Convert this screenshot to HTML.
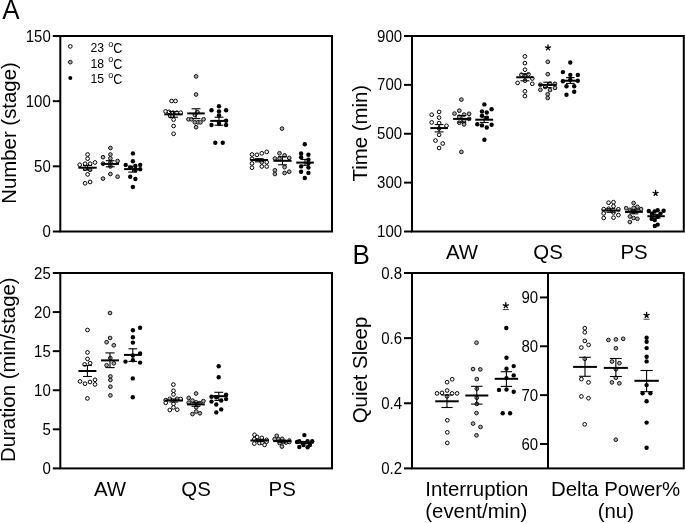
<!DOCTYPE html>
<html><head><meta charset="utf-8"><style>
html,body{margin:0;padding:0;background:#fff;}
svg{display:block;will-change:transform;}
text{font-family:"Liberation Sans", sans-serif;fill:#000;}
</style></head><body>
<svg width="685" height="523" viewBox="0 0 685 523">
<circle cx="87.6" cy="154.5" r="1.85" fill="#fff" stroke="#000" stroke-width="1.0"/>
<circle cx="87.6" cy="158.7" r="1.85" fill="#fff" stroke="#000" stroke-width="1.0"/>
<circle cx="79.7" cy="164.8" r="1.85" fill="#fff" stroke="#000" stroke-width="1.0"/>
<circle cx="85.1" cy="163.7" r="1.85" fill="#fff" stroke="#000" stroke-width="1.0"/>
<circle cx="90.1" cy="163.7" r="1.85" fill="#fff" stroke="#000" stroke-width="1.0"/>
<circle cx="95.0" cy="162.5" r="1.85" fill="#fff" stroke="#000" stroke-width="1.0"/>
<circle cx="85.1" cy="168.7" r="1.85" fill="#fff" stroke="#000" stroke-width="1.0"/>
<circle cx="90.1" cy="169.8" r="1.85" fill="#fff" stroke="#000" stroke-width="1.0"/>
<circle cx="87.6" cy="174.4" r="1.85" fill="#fff" stroke="#000" stroke-width="1.0"/>
<circle cx="85.1" cy="183.3" r="1.85" fill="#fff" stroke="#000" stroke-width="1.0"/>
<circle cx="90.1" cy="182" r="1.85" fill="#fff" stroke="#000" stroke-width="1.0"/>
<circle cx="110.4" cy="148.0" r="1.85" fill="#aaaaaa" stroke="#111" stroke-width="1.0"/>
<circle cx="103.0" cy="157.2" r="1.85" fill="#aaaaaa" stroke="#111" stroke-width="1.0"/>
<circle cx="110.4" cy="154.5" r="1.85" fill="#aaaaaa" stroke="#111" stroke-width="1.0"/>
<circle cx="110.4" cy="158.4" r="1.85" fill="#aaaaaa" stroke="#111" stroke-width="1.0"/>
<circle cx="117.6" cy="161.0" r="1.85" fill="#aaaaaa" stroke="#111" stroke-width="1.0"/>
<circle cx="103.0" cy="163.7" r="1.85" fill="#aaaaaa" stroke="#111" stroke-width="1.0"/>
<circle cx="110.4" cy="162.5" r="1.85" fill="#aaaaaa" stroke="#111" stroke-width="1.0"/>
<circle cx="110.4" cy="166.4" r="1.85" fill="#aaaaaa" stroke="#111" stroke-width="1.0"/>
<circle cx="110.4" cy="174" r="1.85" fill="#aaaaaa" stroke="#111" stroke-width="1.0"/>
<circle cx="117.6" cy="176.7" r="1.85" fill="#aaaaaa" stroke="#111" stroke-width="1.0"/>
<circle cx="103" cy="178.6" r="1.85" fill="#aaaaaa" stroke="#111" stroke-width="1.0"/>
<circle cx="132.9" cy="153.4" r="2.2" fill="#000"/>
<circle cx="132.9" cy="161.3" r="2.2" fill="#000"/>
<circle cx="125.7" cy="164.9" r="2.2" fill="#000"/>
<circle cx="135.4" cy="166" r="2.2" fill="#000"/>
<circle cx="140.2" cy="164.9" r="2.2" fill="#000"/>
<circle cx="130.2" cy="167.4" r="2.2" fill="#000"/>
<circle cx="135.4" cy="170.2" r="2.2" fill="#000"/>
<circle cx="140.2" cy="169.2" r="2.2" fill="#000"/>
<circle cx="130.2" cy="176.7" r="2.2" fill="#000"/>
<circle cx="135.4" cy="179" r="2.2" fill="#000"/>
<circle cx="132.9" cy="187" r="2.2" fill="#000"/>
<circle cx="171.6" cy="101.0" r="1.85" fill="#fff" stroke="#000" stroke-width="1.0"/>
<circle cx="175.5" cy="101.0" r="1.85" fill="#fff" stroke="#000" stroke-width="1.0"/>
<circle cx="165.6" cy="111.4" r="1.85" fill="#fff" stroke="#000" stroke-width="1.0"/>
<circle cx="169" cy="111.8" r="1.85" fill="#fff" stroke="#000" stroke-width="1.0"/>
<circle cx="172.9" cy="112.7" r="1.85" fill="#fff" stroke="#000" stroke-width="1.0"/>
<circle cx="176.8" cy="112.7" r="1.85" fill="#fff" stroke="#000" stroke-width="1.0"/>
<circle cx="180.7" cy="112.7" r="1.85" fill="#fff" stroke="#000" stroke-width="1.0"/>
<circle cx="170.3" cy="116.1" r="1.85" fill="#fff" stroke="#000" stroke-width="1.0"/>
<circle cx="172.5" cy="116.1" r="1.85" fill="#fff" stroke="#000" stroke-width="1.0"/>
<circle cx="173.6" cy="119.6" r="1.85" fill="#fff" stroke="#000" stroke-width="1.0"/>
<circle cx="173.6" cy="126" r="1.85" fill="#fff" stroke="#000" stroke-width="1.0"/>
<circle cx="173.6" cy="133.8" r="1.85" fill="#fff" stroke="#000" stroke-width="1.0"/>
<circle cx="196.1" cy="76.4" r="1.85" fill="#aaaaaa" stroke="#111" stroke-width="1.0"/>
<circle cx="196.1" cy="94.5" r="1.85" fill="#aaaaaa" stroke="#111" stroke-width="1.0"/>
<circle cx="197.5" cy="112.2" r="1.85" fill="#aaaaaa" stroke="#111" stroke-width="1.0"/>
<circle cx="194.8" cy="115" r="1.85" fill="#aaaaaa" stroke="#111" stroke-width="1.0"/>
<circle cx="188.5" cy="119.3" r="1.85" fill="#aaaaaa" stroke="#111" stroke-width="1.0"/>
<circle cx="191.5" cy="119.3" r="1.85" fill="#aaaaaa" stroke="#111" stroke-width="1.0"/>
<circle cx="203.6" cy="119.3" r="1.85" fill="#aaaaaa" stroke="#111" stroke-width="1.0"/>
<circle cx="194.8" cy="122.3" r="1.85" fill="#aaaaaa" stroke="#111" stroke-width="1.0"/>
<circle cx="198" cy="122.3" r="1.85" fill="#aaaaaa" stroke="#111" stroke-width="1.0"/>
<circle cx="200.5" cy="122.3" r="1.85" fill="#aaaaaa" stroke="#111" stroke-width="1.0"/>
<circle cx="196.1" cy="127.2" r="1.85" fill="#aaaaaa" stroke="#111" stroke-width="1.0"/>
<circle cx="219" cy="106.2" r="2.2" fill="#000"/>
<circle cx="211.5" cy="110.3" r="2.2" fill="#000"/>
<circle cx="219" cy="111.4" r="2.2" fill="#000"/>
<circle cx="226.1" cy="110.3" r="2.2" fill="#000"/>
<circle cx="219" cy="115.5" r="2.2" fill="#000"/>
<circle cx="226.1" cy="120.7" r="2.2" fill="#000"/>
<circle cx="219" cy="122.8" r="2.2" fill="#000"/>
<circle cx="211.5" cy="125" r="2.2" fill="#000"/>
<circle cx="219" cy="124.1" r="2.2" fill="#000"/>
<circle cx="226.1" cy="125" r="2.2" fill="#000"/>
<circle cx="215.3" cy="142.7" r="2.2" fill="#000"/>
<circle cx="222.7" cy="142.7" r="2.2" fill="#000"/>
<circle cx="252" cy="154.5" r="1.85" fill="#fff" stroke="#000" stroke-width="1.0"/>
<circle cx="256.9" cy="154.8" r="1.85" fill="#fff" stroke="#000" stroke-width="1.0"/>
<circle cx="261.8" cy="153.3" r="1.85" fill="#fff" stroke="#000" stroke-width="1.0"/>
<circle cx="266.7" cy="151.9" r="1.85" fill="#fff" stroke="#000" stroke-width="1.0"/>
<circle cx="252" cy="158.8" r="1.85" fill="#fff" stroke="#000" stroke-width="1.0"/>
<circle cx="252" cy="163.4" r="1.85" fill="#fff" stroke="#000" stroke-width="1.0"/>
<circle cx="252" cy="167.7" r="1.85" fill="#fff" stroke="#000" stroke-width="1.0"/>
<circle cx="261.8" cy="162.2" r="1.85" fill="#fff" stroke="#000" stroke-width="1.0"/>
<circle cx="261.8" cy="166.5" r="1.85" fill="#fff" stroke="#000" stroke-width="1.0"/>
<circle cx="266.7" cy="162.2" r="1.85" fill="#fff" stroke="#000" stroke-width="1.0"/>
<circle cx="266.7" cy="166.5" r="1.85" fill="#fff" stroke="#000" stroke-width="1.0"/>
<circle cx="282" cy="128.6" r="1.85" fill="#aaaaaa" stroke="#111" stroke-width="1.0"/>
<circle cx="279.5" cy="153.3" r="1.85" fill="#aaaaaa" stroke="#111" stroke-width="1.0"/>
<circle cx="284.6" cy="155.4" r="1.85" fill="#aaaaaa" stroke="#111" stroke-width="1.0"/>
<circle cx="274.9" cy="158.5" r="1.85" fill="#aaaaaa" stroke="#111" stroke-width="1.0"/>
<circle cx="279.5" cy="158.5" r="1.85" fill="#aaaaaa" stroke="#111" stroke-width="1.0"/>
<circle cx="289.2" cy="157.9" r="1.85" fill="#aaaaaa" stroke="#111" stroke-width="1.0"/>
<circle cx="284.6" cy="167.1" r="1.85" fill="#aaaaaa" stroke="#111" stroke-width="1.0"/>
<circle cx="274.9" cy="170.3" r="1.85" fill="#aaaaaa" stroke="#111" stroke-width="1.0"/>
<circle cx="274.9" cy="174" r="1.85" fill="#aaaaaa" stroke="#111" stroke-width="1.0"/>
<circle cx="284.6" cy="173" r="1.85" fill="#aaaaaa" stroke="#111" stroke-width="1.0"/>
<circle cx="289.2" cy="171.7" r="1.85" fill="#aaaaaa" stroke="#111" stroke-width="1.0"/>
<circle cx="304.8" cy="144.3" r="2.2" fill="#000"/>
<circle cx="301.1" cy="153.4" r="2.2" fill="#000"/>
<circle cx="308.4" cy="154.7" r="2.2" fill="#000"/>
<circle cx="301.1" cy="157.3" r="2.2" fill="#000"/>
<circle cx="308.4" cy="159.7" r="2.2" fill="#000"/>
<circle cx="308.4" cy="163.2" r="2.2" fill="#000"/>
<circle cx="301.1" cy="166.4" r="2.2" fill="#000"/>
<circle cx="308.4" cy="167.6" r="2.2" fill="#000"/>
<circle cx="301.1" cy="171.8" r="2.2" fill="#000"/>
<circle cx="308.4" cy="172.9" r="2.2" fill="#000"/>
<circle cx="304.8" cy="178" r="2.2" fill="#000"/>
<circle cx="439.1" cy="111.9" r="1.85" fill="#fff" stroke="#000" stroke-width="1.0"/>
<circle cx="431.7" cy="114.7" r="1.85" fill="#fff" stroke="#000" stroke-width="1.0"/>
<circle cx="439.1" cy="117.6" r="1.85" fill="#fff" stroke="#000" stroke-width="1.0"/>
<circle cx="431.7" cy="122.4" r="1.85" fill="#fff" stroke="#000" stroke-width="1.0"/>
<circle cx="439.1" cy="123.1" r="1.85" fill="#fff" stroke="#000" stroke-width="1.0"/>
<circle cx="446.5" cy="125.8" r="1.85" fill="#fff" stroke="#000" stroke-width="1.0"/>
<circle cx="439.1" cy="128.4" r="1.85" fill="#fff" stroke="#000" stroke-width="1.0"/>
<circle cx="439.1" cy="134.8" r="1.85" fill="#fff" stroke="#000" stroke-width="1.0"/>
<circle cx="435.5" cy="140.6" r="1.85" fill="#fff" stroke="#000" stroke-width="1.0"/>
<circle cx="442.7" cy="143.5" r="1.85" fill="#fff" stroke="#000" stroke-width="1.0"/>
<circle cx="439.1" cy="148" r="1.85" fill="#fff" stroke="#000" stroke-width="1.0"/>
<circle cx="461.4" cy="99.6" r="1.85" fill="#aaaaaa" stroke="#111" stroke-width="1.0"/>
<circle cx="459.3" cy="110.7" r="1.85" fill="#aaaaaa" stroke="#111" stroke-width="1.0"/>
<circle cx="454.5" cy="113.6" r="1.85" fill="#aaaaaa" stroke="#111" stroke-width="1.0"/>
<circle cx="464.1" cy="114.6" r="1.85" fill="#aaaaaa" stroke="#111" stroke-width="1.0"/>
<circle cx="469.1" cy="113.8" r="1.85" fill="#aaaaaa" stroke="#111" stroke-width="1.0"/>
<circle cx="459.3" cy="116.7" r="1.85" fill="#aaaaaa" stroke="#111" stroke-width="1.0"/>
<circle cx="469.1" cy="118.9" r="1.85" fill="#aaaaaa" stroke="#111" stroke-width="1.0"/>
<circle cx="464.1" cy="120.5" r="1.85" fill="#aaaaaa" stroke="#111" stroke-width="1.0"/>
<circle cx="459.3" cy="122.7" r="1.85" fill="#aaaaaa" stroke="#111" stroke-width="1.0"/>
<circle cx="464.1" cy="124.4" r="1.85" fill="#aaaaaa" stroke="#111" stroke-width="1.0"/>
<circle cx="461.4" cy="151.9" r="1.85" fill="#aaaaaa" stroke="#111" stroke-width="1.0"/>
<circle cx="484.4" cy="104.4" r="2.2" fill="#000"/>
<circle cx="491.6" cy="109.3" r="2.2" fill="#000"/>
<circle cx="482" cy="111.4" r="2.2" fill="#000"/>
<circle cx="486.8" cy="112.5" r="2.2" fill="#000"/>
<circle cx="482" cy="115.8" r="2.2" fill="#000"/>
<circle cx="486.8" cy="117.8" r="2.2" fill="#000"/>
<circle cx="477.3" cy="124.2" r="2.2" fill="#000"/>
<circle cx="482" cy="125.4" r="2.2" fill="#000"/>
<circle cx="491.6" cy="124.8" r="2.2" fill="#000"/>
<circle cx="486.8" cy="127.5" r="2.2" fill="#000"/>
<circle cx="484.4" cy="139.7" r="2.2" fill="#000"/>
<circle cx="524.9" cy="56.4" r="1.85" fill="#fff" stroke="#000" stroke-width="1.0"/>
<circle cx="524.9" cy="63.1" r="1.85" fill="#fff" stroke="#000" stroke-width="1.0"/>
<circle cx="525" cy="69.7" r="1.85" fill="#fff" stroke="#000" stroke-width="1.0"/>
<circle cx="521.4" cy="74.7" r="1.85" fill="#fff" stroke="#000" stroke-width="1.0"/>
<circle cx="525" cy="75.8" r="1.85" fill="#fff" stroke="#000" stroke-width="1.0"/>
<circle cx="528.5" cy="74.3" r="1.85" fill="#fff" stroke="#000" stroke-width="1.0"/>
<circle cx="532.3" cy="78.5" r="1.85" fill="#fff" stroke="#000" stroke-width="1.0"/>
<circle cx="525" cy="80.6" r="1.85" fill="#fff" stroke="#000" stroke-width="1.0"/>
<circle cx="517.6" cy="82.9" r="1.85" fill="#fff" stroke="#000" stroke-width="1.0"/>
<circle cx="532.3" cy="83.8" r="1.85" fill="#fff" stroke="#000" stroke-width="1.0"/>
<circle cx="524.9" cy="91.3" r="1.85" fill="#fff" stroke="#000" stroke-width="1.0"/>
<circle cx="524.9" cy="96.1" r="1.85" fill="#fff" stroke="#000" stroke-width="1.0"/>
<circle cx="547.8" cy="61.8" r="1.85" fill="#aaaaaa" stroke="#111" stroke-width="1.0"/>
<circle cx="547.8" cy="74.2" r="1.85" fill="#aaaaaa" stroke="#111" stroke-width="1.0"/>
<circle cx="540.4" cy="84.7" r="1.85" fill="#aaaaaa" stroke="#111" stroke-width="1.0"/>
<circle cx="545.2" cy="87" r="1.85" fill="#aaaaaa" stroke="#111" stroke-width="1.0"/>
<circle cx="550" cy="83.8" r="1.85" fill="#aaaaaa" stroke="#111" stroke-width="1.0"/>
<circle cx="555" cy="83.8" r="1.85" fill="#aaaaaa" stroke="#111" stroke-width="1.0"/>
<circle cx="540.4" cy="89.8" r="1.85" fill="#aaaaaa" stroke="#111" stroke-width="1.0"/>
<circle cx="550" cy="90" r="1.85" fill="#aaaaaa" stroke="#111" stroke-width="1.0"/>
<circle cx="555" cy="87.9" r="1.85" fill="#aaaaaa" stroke="#111" stroke-width="1.0"/>
<circle cx="547.7" cy="94.3" r="1.85" fill="#aaaaaa" stroke="#111" stroke-width="1.0"/>
<circle cx="547.7" cy="98" r="1.85" fill="#aaaaaa" stroke="#111" stroke-width="1.0"/>
<circle cx="570.3" cy="62.5" r="2.2" fill="#000"/>
<circle cx="562.9" cy="72.1" r="2.2" fill="#000"/>
<circle cx="570.3" cy="74.9" r="2.2" fill="#000"/>
<circle cx="577.8" cy="74.9" r="2.2" fill="#000"/>
<circle cx="570.3" cy="79.7" r="2.2" fill="#000"/>
<circle cx="562.9" cy="81.2" r="2.2" fill="#000"/>
<circle cx="577.8" cy="80.7" r="2.2" fill="#000"/>
<circle cx="566.5" cy="86.2" r="2.2" fill="#000"/>
<circle cx="574.2" cy="86.2" r="2.2" fill="#000"/>
<circle cx="574.2" cy="91.7" r="2.2" fill="#000"/>
<circle cx="566.5" cy="94.8" r="2.2" fill="#000"/>
<circle cx="608.6" cy="202.7" r="1.85" fill="#fff" stroke="#000" stroke-width="1.0"/>
<circle cx="613.5" cy="202.2" r="1.85" fill="#fff" stroke="#000" stroke-width="1.0"/>
<circle cx="613.5" cy="206.2" r="1.85" fill="#fff" stroke="#000" stroke-width="1.0"/>
<circle cx="603.7" cy="209.1" r="1.85" fill="#fff" stroke="#000" stroke-width="1.0"/>
<circle cx="608.6" cy="208.8" r="1.85" fill="#fff" stroke="#000" stroke-width="1.0"/>
<circle cx="618.4" cy="209.3" r="1.85" fill="#fff" stroke="#000" stroke-width="1.0"/>
<circle cx="603.7" cy="213.4" r="1.85" fill="#fff" stroke="#000" stroke-width="1.0"/>
<circle cx="613.5" cy="212.5" r="1.85" fill="#fff" stroke="#000" stroke-width="1.0"/>
<circle cx="618.4" cy="215.1" r="1.85" fill="#fff" stroke="#000" stroke-width="1.0"/>
<circle cx="603.7" cy="218" r="1.85" fill="#fff" stroke="#000" stroke-width="1.0"/>
<circle cx="613.5" cy="217.7" r="1.85" fill="#fff" stroke="#000" stroke-width="1.0"/>
<circle cx="633.6" cy="203" r="1.85" fill="#aaaaaa" stroke="#111" stroke-width="1.0"/>
<circle cx="626.2" cy="208.2" r="1.85" fill="#aaaaaa" stroke="#111" stroke-width="1.0"/>
<circle cx="633.6" cy="207.9" r="1.85" fill="#aaaaaa" stroke="#111" stroke-width="1.0"/>
<circle cx="637.4" cy="206.8" r="1.85" fill="#aaaaaa" stroke="#111" stroke-width="1.0"/>
<circle cx="641.1" cy="209.1" r="1.85" fill="#aaaaaa" stroke="#111" stroke-width="1.0"/>
<circle cx="629.9" cy="209.9" r="1.85" fill="#aaaaaa" stroke="#111" stroke-width="1.0"/>
<circle cx="637.4" cy="210.2" r="1.85" fill="#aaaaaa" stroke="#111" stroke-width="1.0"/>
<circle cx="633.6" cy="211.6" r="1.85" fill="#aaaaaa" stroke="#111" stroke-width="1.0"/>
<circle cx="629.9" cy="216.5" r="1.85" fill="#aaaaaa" stroke="#111" stroke-width="1.0"/>
<circle cx="633.6" cy="218" r="1.85" fill="#aaaaaa" stroke="#111" stroke-width="1.0"/>
<circle cx="637.4" cy="218.8" r="1.85" fill="#aaaaaa" stroke="#111" stroke-width="1.0"/>
<circle cx="629.9" cy="222" r="1.85" fill="#aaaaaa" stroke="#111" stroke-width="1.0"/>
<circle cx="648.8" cy="211" r="2.2" fill="#000"/>
<circle cx="654.6" cy="211.5" r="2.2" fill="#000"/>
<circle cx="657.7" cy="210.3" r="2.2" fill="#000"/>
<circle cx="663.6" cy="210.7" r="2.2" fill="#000"/>
<circle cx="651.9" cy="213.8" r="2.2" fill="#000"/>
<circle cx="660.5" cy="213.6" r="2.2" fill="#000"/>
<circle cx="651.9" cy="217" r="2.2" fill="#000"/>
<circle cx="657.7" cy="216.7" r="2.2" fill="#000"/>
<circle cx="651.7" cy="218.9" r="2.2" fill="#000"/>
<circle cx="654.8" cy="220.1" r="2.2" fill="#000"/>
<circle cx="654.8" cy="226" r="2.2" fill="#000"/>
<circle cx="657.7" cy="224.6" r="2.2" fill="#000"/>
<circle cx="87.5" cy="330" r="1.85" fill="#fff" stroke="#000" stroke-width="1.0"/>
<circle cx="87.5" cy="352.4" r="1.85" fill="#fff" stroke="#000" stroke-width="1.0"/>
<circle cx="87.5" cy="358.9" r="1.85" fill="#fff" stroke="#000" stroke-width="1.0"/>
<circle cx="84.6" cy="364.4" r="1.85" fill="#fff" stroke="#000" stroke-width="1.0"/>
<circle cx="90.1" cy="363.2" r="1.85" fill="#fff" stroke="#000" stroke-width="1.0"/>
<circle cx="80" cy="381.4" r="1.85" fill="#fff" stroke="#000" stroke-width="1.0"/>
<circle cx="85" cy="383.7" r="1.85" fill="#fff" stroke="#000" stroke-width="1.0"/>
<circle cx="90" cy="382" r="1.85" fill="#fff" stroke="#000" stroke-width="1.0"/>
<circle cx="95" cy="379.8" r="1.85" fill="#fff" stroke="#000" stroke-width="1.0"/>
<circle cx="95" cy="384.4" r="1.85" fill="#fff" stroke="#000" stroke-width="1.0"/>
<circle cx="87.4" cy="398.4" r="1.85" fill="#fff" stroke="#000" stroke-width="1.0"/>
<circle cx="110" cy="313" r="1.85" fill="#aaaaaa" stroke="#111" stroke-width="1.0"/>
<circle cx="110.1" cy="338" r="1.85" fill="#aaaaaa" stroke="#111" stroke-width="1.0"/>
<circle cx="106.6" cy="342.2" r="1.85" fill="#aaaaaa" stroke="#111" stroke-width="1.0"/>
<circle cx="113.8" cy="345.3" r="1.85" fill="#aaaaaa" stroke="#111" stroke-width="1.0"/>
<circle cx="110.3" cy="358.1" r="1.85" fill="#aaaaaa" stroke="#111" stroke-width="1.0"/>
<circle cx="113.8" cy="363.3" r="1.85" fill="#aaaaaa" stroke="#111" stroke-width="1.0"/>
<circle cx="106.6" cy="365.3" r="1.85" fill="#aaaaaa" stroke="#111" stroke-width="1.0"/>
<circle cx="110.4" cy="376.4" r="1.85" fill="#aaaaaa" stroke="#111" stroke-width="1.0"/>
<circle cx="110.4" cy="380" r="1.85" fill="#aaaaaa" stroke="#111" stroke-width="1.0"/>
<circle cx="110.4" cy="386.7" r="1.85" fill="#aaaaaa" stroke="#111" stroke-width="1.0"/>
<circle cx="110.4" cy="395.4" r="1.85" fill="#aaaaaa" stroke="#111" stroke-width="1.0"/>
<circle cx="140.1" cy="327.8" r="2.2" fill="#000"/>
<circle cx="132.9" cy="330.2" r="2.2" fill="#000"/>
<circle cx="132.9" cy="337.3" r="2.2" fill="#000"/>
<circle cx="132.9" cy="342.6" r="2.2" fill="#000"/>
<circle cx="140.1" cy="353.4" r="2.2" fill="#000"/>
<circle cx="132.9" cy="355.5" r="2.2" fill="#000"/>
<circle cx="125.5" cy="361.6" r="2.2" fill="#000"/>
<circle cx="132.9" cy="360.3" r="2.2" fill="#000"/>
<circle cx="140.1" cy="362.6" r="2.2" fill="#000"/>
<circle cx="132.8" cy="378.4" r="2.2" fill="#000"/>
<circle cx="132.8" cy="397.2" r="2.2" fill="#000"/>
<circle cx="173.4" cy="384.6" r="1.85" fill="#fff" stroke="#000" stroke-width="1.0"/>
<circle cx="173.5" cy="390.8" r="1.85" fill="#fff" stroke="#000" stroke-width="1.0"/>
<circle cx="173.5" cy="394.4" r="1.85" fill="#fff" stroke="#000" stroke-width="1.0"/>
<circle cx="169.8" cy="398.8" r="1.85" fill="#fff" stroke="#000" stroke-width="1.0"/>
<circle cx="177.2" cy="398.8" r="1.85" fill="#fff" stroke="#000" stroke-width="1.0"/>
<circle cx="180.7" cy="399" r="1.85" fill="#fff" stroke="#000" stroke-width="1.0"/>
<circle cx="165.7" cy="400.2" r="1.85" fill="#fff" stroke="#000" stroke-width="1.0"/>
<circle cx="165.7" cy="402.8" r="1.85" fill="#fff" stroke="#000" stroke-width="1.0"/>
<circle cx="173.5" cy="403.9" r="1.85" fill="#fff" stroke="#000" stroke-width="1.0"/>
<circle cx="173.5" cy="407.4" r="1.85" fill="#fff" stroke="#000" stroke-width="1.0"/>
<circle cx="169.8" cy="410" r="1.85" fill="#fff" stroke="#000" stroke-width="1.0"/>
<circle cx="177.2" cy="409.7" r="1.85" fill="#fff" stroke="#000" stroke-width="1.0"/>
<circle cx="196.1" cy="393.5" r="1.85" fill="#aaaaaa" stroke="#111" stroke-width="1.0"/>
<circle cx="188.7" cy="397.9" r="1.85" fill="#aaaaaa" stroke="#111" stroke-width="1.0"/>
<circle cx="192.5" cy="400.6" r="1.85" fill="#aaaaaa" stroke="#111" stroke-width="1.0"/>
<circle cx="188.7" cy="402.6" r="1.85" fill="#aaaaaa" stroke="#111" stroke-width="1.0"/>
<circle cx="203.4" cy="401.1" r="1.85" fill="#aaaaaa" stroke="#111" stroke-width="1.0"/>
<circle cx="196.2" cy="402.4" r="1.85" fill="#aaaaaa" stroke="#111" stroke-width="1.0"/>
<circle cx="199.6" cy="403.2" r="1.85" fill="#aaaaaa" stroke="#111" stroke-width="1.0"/>
<circle cx="196.2" cy="407.2" r="1.85" fill="#aaaaaa" stroke="#111" stroke-width="1.0"/>
<circle cx="196.2" cy="411.5" r="1.85" fill="#aaaaaa" stroke="#111" stroke-width="1.0"/>
<circle cx="192.5" cy="414.1" r="1.85" fill="#aaaaaa" stroke="#111" stroke-width="1.0"/>
<circle cx="199.9" cy="413.3" r="1.85" fill="#aaaaaa" stroke="#111" stroke-width="1.0"/>
<circle cx="218.7" cy="366.3" r="2.2" fill="#000"/>
<circle cx="218.7" cy="377.2" r="2.2" fill="#000"/>
<circle cx="211.5" cy="396.8" r="2.2" fill="#000"/>
<circle cx="216.3" cy="397.3" r="2.2" fill="#000"/>
<circle cx="226.1" cy="394.8" r="2.2" fill="#000"/>
<circle cx="226.1" cy="399.1" r="2.2" fill="#000"/>
<circle cx="211.5" cy="401.6" r="2.2" fill="#000"/>
<circle cx="221.2" cy="400.5" r="2.2" fill="#000"/>
<circle cx="216.3" cy="404.5" r="2.2" fill="#000"/>
<circle cx="221.2" cy="409.4" r="2.2" fill="#000"/>
<circle cx="216.3" cy="412.4" r="2.2" fill="#000"/>
<circle cx="254.5" cy="434.8" r="1.85" fill="#fff" stroke="#000" stroke-width="1.0"/>
<circle cx="257.2" cy="437" r="1.85" fill="#fff" stroke="#000" stroke-width="1.0"/>
<circle cx="261.8" cy="437.9" r="1.85" fill="#fff" stroke="#000" stroke-width="1.0"/>
<circle cx="254.3" cy="439.2" r="1.85" fill="#fff" stroke="#000" stroke-width="1.0"/>
<circle cx="266.6" cy="439.9" r="1.85" fill="#fff" stroke="#000" stroke-width="1.0"/>
<circle cx="254.3" cy="443.6" r="1.85" fill="#fff" stroke="#000" stroke-width="1.0"/>
<circle cx="259.4" cy="443.1" r="1.85" fill="#fff" stroke="#000" stroke-width="1.0"/>
<circle cx="262.4" cy="442.7" r="1.85" fill="#fff" stroke="#000" stroke-width="1.0"/>
<circle cx="264.6" cy="444.9" r="1.85" fill="#fff" stroke="#000" stroke-width="1.0"/>
<circle cx="266.6" cy="441.6" r="1.85" fill="#fff" stroke="#000" stroke-width="1.0"/>
<circle cx="276.7" cy="435.8" r="1.85" fill="#aaaaaa" stroke="#111" stroke-width="1.0"/>
<circle cx="274.6" cy="439.2" r="1.85" fill="#aaaaaa" stroke="#111" stroke-width="1.0"/>
<circle cx="278.5" cy="439.2" r="1.85" fill="#aaaaaa" stroke="#111" stroke-width="1.0"/>
<circle cx="282.2" cy="438.8" r="1.85" fill="#aaaaaa" stroke="#111" stroke-width="1.0"/>
<circle cx="289.3" cy="440.6" r="1.85" fill="#aaaaaa" stroke="#111" stroke-width="1.0"/>
<circle cx="279.6" cy="442.9" r="1.85" fill="#aaaaaa" stroke="#111" stroke-width="1.0"/>
<circle cx="283.3" cy="442.2" r="1.85" fill="#aaaaaa" stroke="#111" stroke-width="1.0"/>
<circle cx="286.1" cy="442.5" r="1.85" fill="#aaaaaa" stroke="#111" stroke-width="1.0"/>
<circle cx="289.3" cy="442" r="1.85" fill="#aaaaaa" stroke="#111" stroke-width="1.0"/>
<circle cx="281.9" cy="446.6" r="1.85" fill="#aaaaaa" stroke="#111" stroke-width="1.0"/>
<circle cx="304.4" cy="435.1" r="2.2" fill="#000"/>
<circle cx="297" cy="442" r="2.2" fill="#000"/>
<circle cx="299.3" cy="441.3" r="2.2" fill="#000"/>
<circle cx="303" cy="442.9" r="2.2" fill="#000"/>
<circle cx="307.6" cy="441.1" r="2.2" fill="#000"/>
<circle cx="312.2" cy="441.3" r="2.2" fill="#000"/>
<circle cx="303.5" cy="445" r="2.2" fill="#000"/>
<circle cx="309.9" cy="445" r="2.2" fill="#000"/>
<circle cx="299.3" cy="447" r="2.2" fill="#000"/>
<circle cx="307.6" cy="447.3" r="2.2" fill="#000"/>
<circle cx="452.2" cy="379.3" r="1.85" fill="#fff" stroke="#000" stroke-width="1.0"/>
<circle cx="447.1" cy="382.2" r="1.85" fill="#fff" stroke="#000" stroke-width="1.0"/>
<circle cx="447.1" cy="390.5" r="1.85" fill="#fff" stroke="#000" stroke-width="1.0"/>
<circle cx="437" cy="393.4" r="1.85" fill="#fff" stroke="#000" stroke-width="1.0"/>
<circle cx="442" cy="392.9" r="1.85" fill="#fff" stroke="#000" stroke-width="1.0"/>
<circle cx="452.1" cy="393.4" r="1.85" fill="#fff" stroke="#000" stroke-width="1.0"/>
<circle cx="457.1" cy="393.4" r="1.85" fill="#fff" stroke="#000" stroke-width="1.0"/>
<circle cx="447.1" cy="396.3" r="1.85" fill="#fff" stroke="#000" stroke-width="1.0"/>
<circle cx="447.3" cy="420.3" r="1.85" fill="#fff" stroke="#000" stroke-width="1.0"/>
<circle cx="447.3" cy="432.3" r="1.85" fill="#fff" stroke="#000" stroke-width="1.0"/>
<circle cx="447.3" cy="442.9" r="1.85" fill="#fff" stroke="#000" stroke-width="1.0"/>
<circle cx="476.5" cy="342.7" r="1.85" fill="#aaaaaa" stroke="#111" stroke-width="1.0"/>
<circle cx="473" cy="369.1" r="1.85" fill="#aaaaaa" stroke="#111" stroke-width="1.0"/>
<circle cx="480.3" cy="369.4" r="1.85" fill="#aaaaaa" stroke="#111" stroke-width="1.0"/>
<circle cx="476.8" cy="379.1" r="1.85" fill="#aaaaaa" stroke="#111" stroke-width="1.0"/>
<circle cx="476.8" cy="388.7" r="1.85" fill="#aaaaaa" stroke="#111" stroke-width="1.0"/>
<circle cx="476.8" cy="397.7" r="1.85" fill="#aaaaaa" stroke="#111" stroke-width="1.0"/>
<circle cx="476.8" cy="403.9" r="1.85" fill="#aaaaaa" stroke="#111" stroke-width="1.0"/>
<circle cx="476.5" cy="413.1" r="1.85" fill="#aaaaaa" stroke="#111" stroke-width="1.0"/>
<circle cx="473.1" cy="423.6" r="1.85" fill="#aaaaaa" stroke="#111" stroke-width="1.0"/>
<circle cx="480.5" cy="427" r="1.85" fill="#aaaaaa" stroke="#111" stroke-width="1.0"/>
<circle cx="476.5" cy="435.3" r="1.85" fill="#aaaaaa" stroke="#111" stroke-width="1.0"/>
<circle cx="506.3" cy="328" r="2.2" fill="#000"/>
<circle cx="506.5" cy="357.8" r="2.2" fill="#000"/>
<circle cx="513.7" cy="366.1" r="2.2" fill="#000"/>
<circle cx="506.5" cy="368.7" r="2.2" fill="#000"/>
<circle cx="513.7" cy="375.4" r="2.2" fill="#000"/>
<circle cx="506.5" cy="378.1" r="2.2" fill="#000"/>
<circle cx="499" cy="389.9" r="2.2" fill="#000"/>
<circle cx="506.5" cy="389.5" r="2.2" fill="#000"/>
<circle cx="513.7" cy="391.8" r="2.2" fill="#000"/>
<circle cx="502.7" cy="413.3" r="2.2" fill="#000"/>
<circle cx="510.1" cy="413.3" r="2.2" fill="#000"/>
<circle cx="584.8" cy="328.2" r="1.85" fill="#fff" stroke="#000" stroke-width="1.0"/>
<circle cx="584.8" cy="332.3" r="1.85" fill="#fff" stroke="#000" stroke-width="1.0"/>
<circle cx="584.8" cy="340.9" r="1.85" fill="#fff" stroke="#000" stroke-width="1.0"/>
<circle cx="588.6" cy="344.9" r="1.85" fill="#fff" stroke="#000" stroke-width="1.0"/>
<circle cx="581.3" cy="347.6" r="1.85" fill="#fff" stroke="#000" stroke-width="1.0"/>
<circle cx="584.8" cy="358.8" r="1.85" fill="#fff" stroke="#000" stroke-width="1.0"/>
<circle cx="581.4" cy="379.1" r="1.85" fill="#fff" stroke="#000" stroke-width="1.0"/>
<circle cx="588.5" cy="382.4" r="1.85" fill="#fff" stroke="#000" stroke-width="1.0"/>
<circle cx="581.4" cy="396.5" r="1.85" fill="#fff" stroke="#000" stroke-width="1.0"/>
<circle cx="588.5" cy="398.2" r="1.85" fill="#fff" stroke="#000" stroke-width="1.0"/>
<circle cx="584.7" cy="424.3" r="1.85" fill="#fff" stroke="#000" stroke-width="1.0"/>
<circle cx="608.4" cy="340" r="1.85" fill="#aaaaaa" stroke="#111" stroke-width="1.0"/>
<circle cx="615.9" cy="339.4" r="1.85" fill="#aaaaaa" stroke="#111" stroke-width="1.0"/>
<circle cx="623.2" cy="338.8" r="1.85" fill="#aaaaaa" stroke="#111" stroke-width="1.0"/>
<circle cx="615.9" cy="348.3" r="1.85" fill="#aaaaaa" stroke="#111" stroke-width="1.0"/>
<circle cx="612" cy="361.5" r="1.85" fill="#aaaaaa" stroke="#111" stroke-width="1.0"/>
<circle cx="619.4" cy="363.2" r="1.85" fill="#aaaaaa" stroke="#111" stroke-width="1.0"/>
<circle cx="615.9" cy="369.2" r="1.85" fill="#aaaaaa" stroke="#111" stroke-width="1.0"/>
<circle cx="615.8" cy="377.8" r="1.85" fill="#aaaaaa" stroke="#111" stroke-width="1.0"/>
<circle cx="611.9" cy="382.4" r="1.85" fill="#aaaaaa" stroke="#111" stroke-width="1.0"/>
<circle cx="619.3" cy="383.3" r="1.85" fill="#aaaaaa" stroke="#111" stroke-width="1.0"/>
<circle cx="615.8" cy="439.7" r="1.85" fill="#aaaaaa" stroke="#111" stroke-width="1.0"/>
<circle cx="646.6" cy="337.7" r="2.2" fill="#000"/>
<circle cx="646.6" cy="341.8" r="2.2" fill="#000"/>
<circle cx="646.6" cy="348.1" r="2.2" fill="#000"/>
<circle cx="646.6" cy="356.8" r="2.2" fill="#000"/>
<circle cx="646.6" cy="361.4" r="2.2" fill="#000"/>
<circle cx="646.6" cy="385.1" r="2.2" fill="#000"/>
<circle cx="642.6" cy="393.2" r="2.2" fill="#000"/>
<circle cx="650.4" cy="393.2" r="2.2" fill="#000"/>
<circle cx="646.6" cy="401.2" r="2.2" fill="#000"/>
<circle cx="646.6" cy="422.6" r="2.2" fill="#000"/>
<circle cx="646.6" cy="447.8" r="2.2" fill="#000"/>
<line x1="87.50" y1="165.40" x2="87.50" y2="170.00" stroke="#000" stroke-width="1.1"/>
<line x1="83.00" y1="165.40" x2="92.00" y2="165.40" stroke="#000" stroke-width="1.1"/>
<line x1="83.00" y1="170.00" x2="92.00" y2="170.00" stroke="#000" stroke-width="1.1"/>
<line x1="78.30" y1="167.70" x2="96.70" y2="167.70" stroke="#000" stroke-width="2"/>
<line x1="110.20" y1="160.70" x2="110.20" y2="166.80" stroke="#000" stroke-width="1.1"/>
<line x1="105.80" y1="160.70" x2="114.60" y2="160.70" stroke="#000" stroke-width="1.1"/>
<line x1="105.80" y1="166.80" x2="114.60" y2="166.80" stroke="#000" stroke-width="1.1"/>
<line x1="101.40" y1="163.90" x2="119.00" y2="163.90" stroke="#000" stroke-width="2"/>
<line x1="132.60" y1="166.20" x2="132.60" y2="172.10" stroke="#000" stroke-width="1.1"/>
<line x1="128.20" y1="166.20" x2="137.00" y2="166.20" stroke="#000" stroke-width="1.1"/>
<line x1="128.20" y1="172.10" x2="137.00" y2="172.10" stroke="#000" stroke-width="1.1"/>
<line x1="124.10" y1="169.10" x2="141.10" y2="169.10" stroke="#000" stroke-width="2"/>
<line x1="173.50" y1="111.60" x2="173.50" y2="117.20" stroke="#000" stroke-width="1.1"/>
<line x1="168.90" y1="111.60" x2="178.10" y2="111.60" stroke="#000" stroke-width="1.1"/>
<line x1="168.90" y1="117.20" x2="178.10" y2="117.20" stroke="#000" stroke-width="1.1"/>
<line x1="164.30" y1="114.40" x2="182.70" y2="114.40" stroke="#000" stroke-width="2"/>
<line x1="196.00" y1="108.80" x2="196.00" y2="118.60" stroke="#000" stroke-width="1.1"/>
<line x1="191.60" y1="108.80" x2="200.40" y2="108.80" stroke="#000" stroke-width="1.1"/>
<line x1="191.60" y1="118.60" x2="200.40" y2="118.60" stroke="#000" stroke-width="1.1"/>
<line x1="187.20" y1="113.40" x2="204.80" y2="113.40" stroke="#000" stroke-width="2"/>
<line x1="219.00" y1="117.20" x2="219.00" y2="125.20" stroke="#000" stroke-width="1.1"/>
<line x1="214.60" y1="117.20" x2="223.40" y2="117.20" stroke="#000" stroke-width="1.1"/>
<line x1="214.60" y1="125.20" x2="223.40" y2="125.20" stroke="#000" stroke-width="1.1"/>
<line x1="210.20" y1="120.90" x2="227.80" y2="120.90" stroke="#000" stroke-width="2"/>
<line x1="259.20" y1="158.70" x2="259.20" y2="161.80" stroke="#000" stroke-width="1.1"/>
<line x1="254.80" y1="158.70" x2="263.60" y2="158.70" stroke="#000" stroke-width="1.1"/>
<line x1="254.80" y1="161.80" x2="263.60" y2="161.80" stroke="#000" stroke-width="1.1"/>
<line x1="250.30" y1="160.00" x2="268.10" y2="160.00" stroke="#000" stroke-width="2"/>
<line x1="282.50" y1="156.70" x2="282.50" y2="164.80" stroke="#000" stroke-width="1.1"/>
<line x1="278.10" y1="156.70" x2="286.90" y2="156.70" stroke="#000" stroke-width="1.1"/>
<line x1="278.10" y1="164.80" x2="286.90" y2="164.80" stroke="#000" stroke-width="1.1"/>
<line x1="273.40" y1="160.80" x2="291.60" y2="160.80" stroke="#000" stroke-width="2"/>
<line x1="305.00" y1="159.40" x2="305.00" y2="165.30" stroke="#000" stroke-width="1.1"/>
<line x1="300.60" y1="159.40" x2="309.40" y2="159.40" stroke="#000" stroke-width="1.1"/>
<line x1="300.60" y1="165.30" x2="309.40" y2="165.30" stroke="#000" stroke-width="1.1"/>
<line x1="296.20" y1="162.60" x2="313.80" y2="162.60" stroke="#000" stroke-width="2"/>
<line x1="439.10" y1="124.60" x2="439.10" y2="131.90" stroke="#000" stroke-width="1.1"/>
<line x1="434.70" y1="124.60" x2="443.50" y2="124.60" stroke="#000" stroke-width="1.1"/>
<line x1="434.70" y1="131.90" x2="443.50" y2="131.90" stroke="#000" stroke-width="1.1"/>
<line x1="430.30" y1="128.10" x2="447.90" y2="128.10" stroke="#000" stroke-width="2"/>
<line x1="461.90" y1="115.60" x2="461.90" y2="122.20" stroke="#000" stroke-width="1.1"/>
<line x1="457.50" y1="115.60" x2="466.30" y2="115.60" stroke="#000" stroke-width="1.1"/>
<line x1="457.50" y1="122.20" x2="466.30" y2="122.20" stroke="#000" stroke-width="1.1"/>
<line x1="453.10" y1="118.90" x2="470.70" y2="118.90" stroke="#000" stroke-width="2"/>
<line x1="484.20" y1="116.50" x2="484.20" y2="122.50" stroke="#000" stroke-width="1.1"/>
<line x1="479.80" y1="116.50" x2="488.60" y2="116.50" stroke="#000" stroke-width="1.1"/>
<line x1="479.80" y1="122.50" x2="488.60" y2="122.50" stroke="#000" stroke-width="1.1"/>
<line x1="475.30" y1="119.70" x2="493.10" y2="119.70" stroke="#000" stroke-width="2"/>
<line x1="524.90" y1="73.80" x2="524.90" y2="80.80" stroke="#000" stroke-width="1.1"/>
<line x1="520.40" y1="73.80" x2="529.40" y2="73.80" stroke="#000" stroke-width="1.1"/>
<line x1="520.40" y1="80.80" x2="529.40" y2="80.80" stroke="#000" stroke-width="1.1"/>
<line x1="516.20" y1="77.30" x2="533.60" y2="77.30" stroke="#000" stroke-width="2"/>
<line x1="547.50" y1="82.20" x2="547.50" y2="87.60" stroke="#000" stroke-width="1.1"/>
<line x1="543.30" y1="82.20" x2="551.70" y2="82.20" stroke="#000" stroke-width="1.1"/>
<line x1="543.30" y1="87.60" x2="551.70" y2="87.60" stroke="#000" stroke-width="1.1"/>
<line x1="538.50" y1="84.90" x2="556.50" y2="84.90" stroke="#000" stroke-width="2"/>
<line x1="570.30" y1="77.60" x2="570.30" y2="83.40" stroke="#000" stroke-width="1.1"/>
<line x1="566.00" y1="77.60" x2="574.60" y2="77.60" stroke="#000" stroke-width="1.1"/>
<line x1="566.00" y1="83.40" x2="574.60" y2="83.40" stroke="#000" stroke-width="1.1"/>
<line x1="561.30" y1="80.70" x2="579.30" y2="80.70" stroke="#000" stroke-width="2"/>
<line x1="610.90" y1="208.70" x2="610.90" y2="212.30" stroke="#000" stroke-width="1.1"/>
<line x1="606.50" y1="208.70" x2="615.30" y2="208.70" stroke="#000" stroke-width="1.1"/>
<line x1="606.50" y1="212.30" x2="615.30" y2="212.30" stroke="#000" stroke-width="1.1"/>
<line x1="601.70" y1="210.50" x2="620.10" y2="210.50" stroke="#000" stroke-width="2"/>
<line x1="633.90" y1="210.00" x2="633.90" y2="213.80" stroke="#000" stroke-width="1.1"/>
<line x1="629.50" y1="210.00" x2="638.30" y2="210.00" stroke="#000" stroke-width="1.1"/>
<line x1="629.50" y1="213.80" x2="638.30" y2="213.80" stroke="#000" stroke-width="1.1"/>
<line x1="625.00" y1="211.90" x2="642.80" y2="211.90" stroke="#000" stroke-width="2"/>
<line x1="656.10" y1="214.40" x2="656.10" y2="218.00" stroke="#000" stroke-width="1.1"/>
<line x1="651.70" y1="214.40" x2="660.50" y2="214.40" stroke="#000" stroke-width="1.1"/>
<line x1="651.70" y1="218.00" x2="660.50" y2="218.00" stroke="#000" stroke-width="1.1"/>
<line x1="647.40" y1="216.20" x2="664.80" y2="216.20" stroke="#000" stroke-width="2"/>
<line x1="87.40" y1="365.50" x2="87.40" y2="376.50" stroke="#000" stroke-width="1.1"/>
<line x1="82.90" y1="365.50" x2="91.90" y2="365.50" stroke="#000" stroke-width="1.1"/>
<line x1="82.90" y1="376.50" x2="91.90" y2="376.50" stroke="#000" stroke-width="1.1"/>
<line x1="78.40" y1="371.00" x2="96.40" y2="371.00" stroke="#000" stroke-width="2"/>
<line x1="110.00" y1="352.90" x2="110.00" y2="367.60" stroke="#000" stroke-width="1.1"/>
<line x1="105.40" y1="352.90" x2="114.60" y2="352.90" stroke="#000" stroke-width="1.1"/>
<line x1="105.40" y1="367.60" x2="114.60" y2="367.60" stroke="#000" stroke-width="1.1"/>
<line x1="101.00" y1="360.40" x2="119.00" y2="360.40" stroke="#000" stroke-width="2"/>
<line x1="132.80" y1="348.80" x2="132.80" y2="361.40" stroke="#000" stroke-width="1.1"/>
<line x1="128.50" y1="348.80" x2="137.10" y2="348.80" stroke="#000" stroke-width="1.1"/>
<line x1="128.50" y1="361.40" x2="137.10" y2="361.40" stroke="#000" stroke-width="1.1"/>
<line x1="124.00" y1="354.90" x2="141.60" y2="354.90" stroke="#000" stroke-width="2"/>
<line x1="173.80" y1="399.00" x2="173.80" y2="402.00" stroke="#000" stroke-width="1.1"/>
<line x1="169.40" y1="399.00" x2="178.20" y2="399.00" stroke="#000" stroke-width="1.1"/>
<line x1="169.40" y1="402.00" x2="178.20" y2="402.00" stroke="#000" stroke-width="1.1"/>
<line x1="164.60" y1="400.50" x2="183.00" y2="400.50" stroke="#000" stroke-width="2"/>
<line x1="195.90" y1="402.70" x2="195.90" y2="406.30" stroke="#000" stroke-width="1.1"/>
<line x1="191.50" y1="402.70" x2="200.30" y2="402.70" stroke="#000" stroke-width="1.1"/>
<line x1="191.50" y1="406.30" x2="200.30" y2="406.30" stroke="#000" stroke-width="1.1"/>
<line x1="187.00" y1="404.40" x2="204.80" y2="404.40" stroke="#000" stroke-width="2"/>
<line x1="218.80" y1="392.30" x2="218.80" y2="400.40" stroke="#000" stroke-width="1.1"/>
<line x1="214.40" y1="392.30" x2="223.20" y2="392.30" stroke="#000" stroke-width="1.1"/>
<line x1="214.40" y1="400.40" x2="223.20" y2="400.40" stroke="#000" stroke-width="1.1"/>
<line x1="210.00" y1="396.20" x2="227.60" y2="396.20" stroke="#000" stroke-width="2"/>
<line x1="259.70" y1="439.30" x2="259.70" y2="441.70" stroke="#000" stroke-width="1.1"/>
<line x1="255.30" y1="439.30" x2="264.10" y2="439.30" stroke="#000" stroke-width="1.1"/>
<line x1="255.30" y1="441.70" x2="264.10" y2="441.70" stroke="#000" stroke-width="1.1"/>
<line x1="250.40" y1="440.50" x2="269.00" y2="440.50" stroke="#000" stroke-width="2"/>
<line x1="282.00" y1="440.00" x2="282.00" y2="442.20" stroke="#000" stroke-width="1.1"/>
<line x1="277.60" y1="440.00" x2="286.40" y2="440.00" stroke="#000" stroke-width="1.1"/>
<line x1="277.60" y1="442.20" x2="286.40" y2="442.20" stroke="#000" stroke-width="1.1"/>
<line x1="273.20" y1="441.10" x2="290.80" y2="441.10" stroke="#000" stroke-width="2"/>
<line x1="304.80" y1="441.70" x2="304.80" y2="443.70" stroke="#000" stroke-width="1.1"/>
<line x1="300.40" y1="441.70" x2="309.20" y2="441.70" stroke="#000" stroke-width="1.1"/>
<line x1="300.40" y1="443.70" x2="309.20" y2="443.70" stroke="#000" stroke-width="1.1"/>
<line x1="296.00" y1="442.70" x2="313.60" y2="442.70" stroke="#000" stroke-width="2"/>
<line x1="447.00" y1="395.00" x2="447.00" y2="407.50" stroke="#000" stroke-width="1.1"/>
<line x1="441.40" y1="395.00" x2="452.60" y2="395.00" stroke="#000" stroke-width="1.1"/>
<line x1="441.40" y1="407.50" x2="452.60" y2="407.50" stroke="#000" stroke-width="1.1"/>
<line x1="435.30" y1="401.30" x2="458.70" y2="401.30" stroke="#000" stroke-width="2"/>
<line x1="476.80" y1="386.30" x2="476.80" y2="404.10" stroke="#000" stroke-width="1.1"/>
<line x1="471.10" y1="386.30" x2="482.50" y2="386.30" stroke="#000" stroke-width="1.1"/>
<line x1="471.10" y1="404.10" x2="482.50" y2="404.10" stroke="#000" stroke-width="1.1"/>
<line x1="465.30" y1="395.50" x2="488.30" y2="395.50" stroke="#000" stroke-width="2"/>
<line x1="506.40" y1="371.70" x2="506.40" y2="386.40" stroke="#000" stroke-width="1.1"/>
<line x1="500.70" y1="371.70" x2="512.10" y2="371.70" stroke="#000" stroke-width="1.1"/>
<line x1="500.70" y1="386.40" x2="512.10" y2="386.40" stroke="#000" stroke-width="1.1"/>
<line x1="494.70" y1="378.80" x2="518.10" y2="378.80" stroke="#000" stroke-width="2"/>
<line x1="585.00" y1="357.30" x2="585.00" y2="376.30" stroke="#000" stroke-width="1.1"/>
<line x1="579.15" y1="357.30" x2="590.85" y2="357.30" stroke="#000" stroke-width="1.1"/>
<line x1="579.15" y1="376.30" x2="590.85" y2="376.30" stroke="#000" stroke-width="1.1"/>
<line x1="573.10" y1="366.90" x2="596.90" y2="366.90" stroke="#000" stroke-width="2"/>
<line x1="615.85" y1="358.50" x2="615.85" y2="376.50" stroke="#000" stroke-width="1.1"/>
<line x1="609.85" y1="358.50" x2="621.85" y2="358.50" stroke="#000" stroke-width="1.1"/>
<line x1="609.85" y1="376.50" x2="621.85" y2="376.50" stroke="#000" stroke-width="1.1"/>
<line x1="603.85" y1="367.90" x2="627.85" y2="367.90" stroke="#000" stroke-width="2"/>
<line x1="646.60" y1="370.50" x2="646.60" y2="391.70" stroke="#000" stroke-width="1.1"/>
<line x1="640.40" y1="370.50" x2="652.80" y2="370.50" stroke="#000" stroke-width="1.1"/>
<line x1="640.40" y1="391.70" x2="652.80" y2="391.70" stroke="#000" stroke-width="1.1"/>
<line x1="634.40" y1="380.80" x2="658.80" y2="380.80" stroke="#000" stroke-width="2"/>
<path d="M548.00,47.90L548.00,44.90M548.00,47.90L550.54,46.98M548.00,47.90L549.47,49.92M548.00,47.90L546.53,49.92M548.00,47.90L545.46,46.98" stroke="#000" stroke-width="1.3" stroke-linecap="round" fill="none"/>
<path d="M655.60,193.40L655.60,190.40M655.60,193.40L658.14,192.48M655.60,193.40L657.07,195.42M655.60,193.40L654.13,195.42M655.60,193.40L653.06,192.48" stroke="#000" stroke-width="1.3" stroke-linecap="round" fill="none"/>
<path d="M505.80,305.70L505.80,302.70M505.80,305.70L508.34,304.78M505.80,305.70L507.27,307.72M505.80,305.70L504.33,307.72M505.80,305.70L503.26,304.78" stroke="#000" stroke-width="1.3" stroke-linecap="round" fill="none"/>
<line x1="502.80" y1="309.60" x2="508.80" y2="309.60" stroke="#333" stroke-width="1"/>
<path d="M646.60,315.30L646.60,312.30M646.60,315.30L649.14,314.38M646.60,315.30L648.07,317.32M646.60,315.30L645.13,317.32M646.60,315.30L644.06,314.38" stroke="#000" stroke-width="1.3" stroke-linecap="round" fill="none"/>
<line x1="643.60" y1="319.20" x2="649.60" y2="319.20" stroke="#333" stroke-width="1"/>
<rect x="60.3" y="36" width="271.70" height="195.50" fill="none" stroke="#000" stroke-width="2"/>
<rect x="412" y="36" width="271.80" height="195.50" fill="none" stroke="#000" stroke-width="2"/>
<rect x="60.3" y="273" width="271.70" height="195.40" fill="none" stroke="#000" stroke-width="2"/>
<rect x="412" y="273" width="271.80" height="195.40" fill="none" stroke="#000" stroke-width="2"/>
<line x1="548.00" y1="273.00" x2="548.00" y2="468.40" stroke="#000" stroke-width="2"/>
<line x1="52.80" y1="231.50" x2="60.30" y2="231.50" stroke="#000" stroke-width="2"/>
<text transform="translate(50.80,237.10) scale(1,1.08)" font-size="15" text-anchor="end">0</text>
<line x1="52.80" y1="166.33" x2="60.30" y2="166.33" stroke="#000" stroke-width="2"/>
<text transform="translate(50.80,171.93) scale(1,1.08)" font-size="15" text-anchor="end">50</text>
<line x1="52.80" y1="101.17" x2="60.30" y2="101.17" stroke="#000" stroke-width="2"/>
<text transform="translate(50.80,106.77) scale(1,1.08)" font-size="15" text-anchor="end">100</text>
<line x1="52.80" y1="36.00" x2="60.30" y2="36.00" stroke="#000" stroke-width="2"/>
<text transform="translate(50.80,41.60) scale(1,1.08)" font-size="15" text-anchor="end">150</text>
<line x1="404.00" y1="231.50" x2="412.00" y2="231.50" stroke="#000" stroke-width="2"/>
<text transform="translate(402.10,237.10) scale(1,1.08)" font-size="15" text-anchor="end">100</text>
<line x1="404.00" y1="182.62" x2="412.00" y2="182.62" stroke="#000" stroke-width="2"/>
<text transform="translate(402.10,188.22) scale(1,1.08)" font-size="15" text-anchor="end">300</text>
<line x1="404.00" y1="133.75" x2="412.00" y2="133.75" stroke="#000" stroke-width="2"/>
<text transform="translate(402.10,139.35) scale(1,1.08)" font-size="15" text-anchor="end">500</text>
<line x1="404.00" y1="84.88" x2="412.00" y2="84.88" stroke="#000" stroke-width="2"/>
<text transform="translate(402.10,90.47) scale(1,1.08)" font-size="15" text-anchor="end">700</text>
<line x1="404.00" y1="36.00" x2="412.00" y2="36.00" stroke="#000" stroke-width="2"/>
<text transform="translate(402.10,41.60) scale(1,1.08)" font-size="15" text-anchor="end">900</text>
<line x1="52.80" y1="468.40" x2="60.30" y2="468.40" stroke="#000" stroke-width="2"/>
<text transform="translate(50.80,474.00) scale(1,1.08)" font-size="15" text-anchor="end">0</text>
<line x1="52.80" y1="429.32" x2="60.30" y2="429.32" stroke="#000" stroke-width="2"/>
<text transform="translate(50.80,434.92) scale(1,1.08)" font-size="15" text-anchor="end">5</text>
<line x1="52.80" y1="390.24" x2="60.30" y2="390.24" stroke="#000" stroke-width="2"/>
<text transform="translate(50.80,395.84) scale(1,1.08)" font-size="15" text-anchor="end">10</text>
<line x1="52.80" y1="351.16" x2="60.30" y2="351.16" stroke="#000" stroke-width="2"/>
<text transform="translate(50.80,356.76) scale(1,1.08)" font-size="15" text-anchor="end">15</text>
<line x1="52.80" y1="312.08" x2="60.30" y2="312.08" stroke="#000" stroke-width="2"/>
<text transform="translate(50.80,317.68) scale(1,1.08)" font-size="15" text-anchor="end">20</text>
<line x1="52.80" y1="273.00" x2="60.30" y2="273.00" stroke="#000" stroke-width="2"/>
<text transform="translate(50.80,278.60) scale(1,1.08)" font-size="15" text-anchor="end">25</text>
<line x1="404.00" y1="468.40" x2="412.00" y2="468.40" stroke="#000" stroke-width="2"/>
<text transform="translate(402.10,474.00) scale(1,1.08)" font-size="15" text-anchor="end">0.2</text>
<line x1="404.00" y1="403.27" x2="412.00" y2="403.27" stroke="#000" stroke-width="2"/>
<text transform="translate(402.10,408.87) scale(1,1.08)" font-size="15" text-anchor="end">0.4</text>
<line x1="404.00" y1="338.13" x2="412.00" y2="338.13" stroke="#000" stroke-width="2"/>
<text transform="translate(402.10,343.73) scale(1,1.08)" font-size="15" text-anchor="end">0.6</text>
<line x1="404.00" y1="273.00" x2="412.00" y2="273.00" stroke="#000" stroke-width="2"/>
<text transform="translate(402.10,278.60) scale(1,1.08)" font-size="15" text-anchor="end">0.8</text>
<line x1="540.00" y1="443.97" x2="548.00" y2="443.97" stroke="#000" stroke-width="2"/>
<text transform="translate(538.10,449.57) scale(1,1.08)" font-size="15" text-anchor="end">60</text>
<line x1="540.00" y1="395.12" x2="548.00" y2="395.12" stroke="#000" stroke-width="2"/>
<text transform="translate(538.10,400.73) scale(1,1.08)" font-size="15" text-anchor="end">70</text>
<line x1="540.00" y1="346.27" x2="548.00" y2="346.27" stroke="#000" stroke-width="2"/>
<text transform="translate(538.10,351.88) scale(1,1.08)" font-size="15" text-anchor="end">80</text>
<line x1="540.00" y1="297.43" x2="548.00" y2="297.43" stroke="#000" stroke-width="2"/>
<text transform="translate(538.10,303.03) scale(1,1.08)" font-size="15" text-anchor="end">90</text>
<text transform="translate(2.3,18.6) scale(1,1.045)" font-size="26">A</text>
<text transform="translate(352.4,263.8) scale(1,1.045)" font-size="26">B</text>
<text transform="translate(15.60,133.00) rotate(-90)" font-size="20.4" text-anchor="middle">Number (stage)</text>
<text transform="translate(366.80,133.20) rotate(-90)" font-size="20.4" text-anchor="middle">Time (min)</text>
<text transform="translate(15.40,369.70) rotate(-90)" font-size="20.4" text-anchor="middle">Duration (min/stage)</text>
<text transform="translate(366.80,370.00) rotate(-90)" font-size="20.4" text-anchor="middle">Quiet Sleep</text>
<text x="462.00" y="258.60" font-size="20.4" text-anchor="middle">AW</text>
<text x="548.00" y="258.60" font-size="20.4" text-anchor="middle">QS</text>
<text x="634.00" y="258.60" font-size="20.4" text-anchor="middle">PS</text>
<text x="110.00" y="495.70" font-size="20.4" text-anchor="middle">AW</text>
<text x="196.10" y="495.70" font-size="20.4" text-anchor="middle">QS</text>
<text x="282.20" y="495.70" font-size="20.4" text-anchor="middle">PS</text>
<text x="476.80" y="496.00" font-size="20.4" text-anchor="middle">Interruption</text>
<text x="476.30" y="517.80" font-size="20.4" text-anchor="middle">(event/min)</text>
<text x="615.60" y="496.00" font-size="20.4" text-anchor="middle">Delta Power%</text>
<text x="615.80" y="517.80" font-size="20.4" text-anchor="middle">(nu)</text>
<circle cx="70.3" cy="46.40" r="1.85" fill="#fff" stroke="#000" stroke-width="1.0"/>
<text x="90.50" y="51.80" font-size="12.2" text-anchor="start">23</text>
<text transform="translate(108.2,46.60) scale(1,1.1)" font-size="9">o</text>
<text transform="translate(113.2,52.90) scale(1,1.12)" font-size="12.6">C</text>
<circle cx="70.3" cy="62.15" r="1.85" fill="#aaaaaa" stroke="#111" stroke-width="1.0"/>
<text x="90.50" y="67.55" font-size="12.2" text-anchor="start">18</text>
<text transform="translate(108.2,62.35) scale(1,1.1)" font-size="9">o</text>
<text transform="translate(113.2,68.65) scale(1,1.12)" font-size="12.6">C</text>
<circle cx="70.3" cy="77.90" r="2.0" fill="#000"/>
<text x="90.50" y="83.30" font-size="12.2" text-anchor="start">15</text>
<text transform="translate(108.2,78.10) scale(1,1.1)" font-size="9">o</text>
<text transform="translate(113.2,84.40) scale(1,1.12)" font-size="12.6">C</text>
</svg>
</body></html>
